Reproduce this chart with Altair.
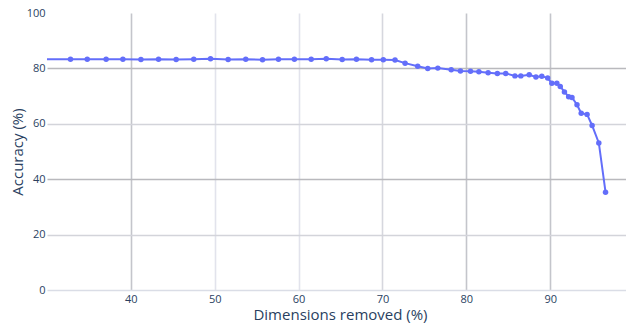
import altair as alt
import pandas as pd

dims_removed = [0.0, 32.8, 34.8, 37.05, 39.05, 41.2, 43.3, 45.4, 47.5, 49.5, 51.6, 53.7, 55.7,
                57.6, 59.5, 61.5, 63.3, 65.2, 66.9, 68.7, 70.1, 71.5, 72.7, 74.2, 75.4,
                76.6, 78.2, 79.3, 80.5, 81.5, 82.6, 83.7, 84.7, 85.8, 86.5, 87.5, 88.3,
                89.0, 89.7, 90.2, 90.8, 91.2, 91.7, 92.2, 92.6, 93.2, 93.7, 94.4, 95.0,
                95.8, 96.6]
accuracy = [83.3, 83.3, 83.3, 83.3, 83.3, 83.2, 83.3, 83.2, 83.3, 83.5, 83.2, 83.3, 83.1,
            83.3, 83.3, 83.3, 83.5, 83.2, 83.3, 83.1, 83.1, 83.0, 81.9, 80.8, 80.0,
            80.1, 79.5, 79.1, 79.0, 78.8, 78.4, 78.2, 78.2, 77.3, 77.3, 77.7, 76.9,
            77.2, 76.5, 74.6, 74.6, 73.5, 71.5, 69.8, 69.5, 66.9, 63.8, 63.4, 59.4,
            53.1, 35.3]

x_ticks = [40, 50, 60, 70, 80, 90]
y_ticks = [0, 20, 40, 60, 80, 100]

df = pd.DataFrame({"x": dims_removed, "y": accuracy})

COLOR = "#636efa"
TEXT = "#2a3f5f"

PLOT_W = 579
PLOT_H = 277

base = alt.Chart(df).encode(
    x=alt.X(
        "x:Q",
        scale=alt.Scale(domain=[30, 99.04], nice=False, zero=False),
        axis=alt.Axis(
            values=x_ticks,
            title="Dimensions removed (%)",
            grid=True,
            gridColor={"condition": [
                {"test": "datum.value == 50 || datum.value == 60", "value": "#e2e3ec"},
                {"test": "datum.value == 70", "value": "#d6d7de"},
            ], "value": "#c4c5cb"},
            gridWidth=1.6,
            domain=False,
            ticks=False,
            labelPadding=3,
            labelFontSize=11,
            labelColor=TEXT,
            labelFont="Open Sans",
            titleFont="Open Sans",
            titleFontSize=15,
            titleFontWeight="normal",
            titleColor=TEXT,
            titleX=293,
            titleY=29.5,
            titleAlign="center",
            titleBaseline="alphabetic",
        ),
    ),
    y=alt.Y(
        "y:Q",
        scale=alt.Scale(domain=[0, 100], nice=False),
        axis=alt.Axis(
            values=y_ticks,
            title="Accuracy (%)",
            grid=True,
            gridColor={"condition": [
                {"test": "datum.value == 0", "value": "#dadde6"},
                {"test": "datum.value == 40 || datum.value == 80", "value": "#b9b9bd"},
            ], "value": "#d3d4da"},
            gridOpacity={"condition": {"test": "datum.value == 100", "value": 0}, "value": 1},
            gridWidth=1.6,
            domain=False,
            ticks=False,
            labelPadding=2,
            labelFontSize=11,
            labelColor=TEXT,
            labelFont="Open Sans",
            titleFont="Open Sans",
            titleFontSize=15,
            titleFontWeight="normal",
            titleColor=TEXT,
            titleAngle=-90,
            titleX=-25,
            titleY=138.5,
            titleAlign="center",
            titleBaseline="alphabetic",
        ),
    ),
)

line = base.mark_line(color=COLOR, strokeWidth=2, clip=True)
pts = base.mark_circle(color=COLOR, size=30, opacity=1, clip=True)

chart = (line + pts).properties(
    width=PLOT_W,
    height=PLOT_H,
    autosize=alt.AutoSizeParams(type="none"),
    padding={"left": 39, "top": 5, "right": 0, "bottom": 36},
    background="white",
).configure_view(stroke=None)

chart.save("out.html", embed_options={"renderer": "svg", "actions": False})
